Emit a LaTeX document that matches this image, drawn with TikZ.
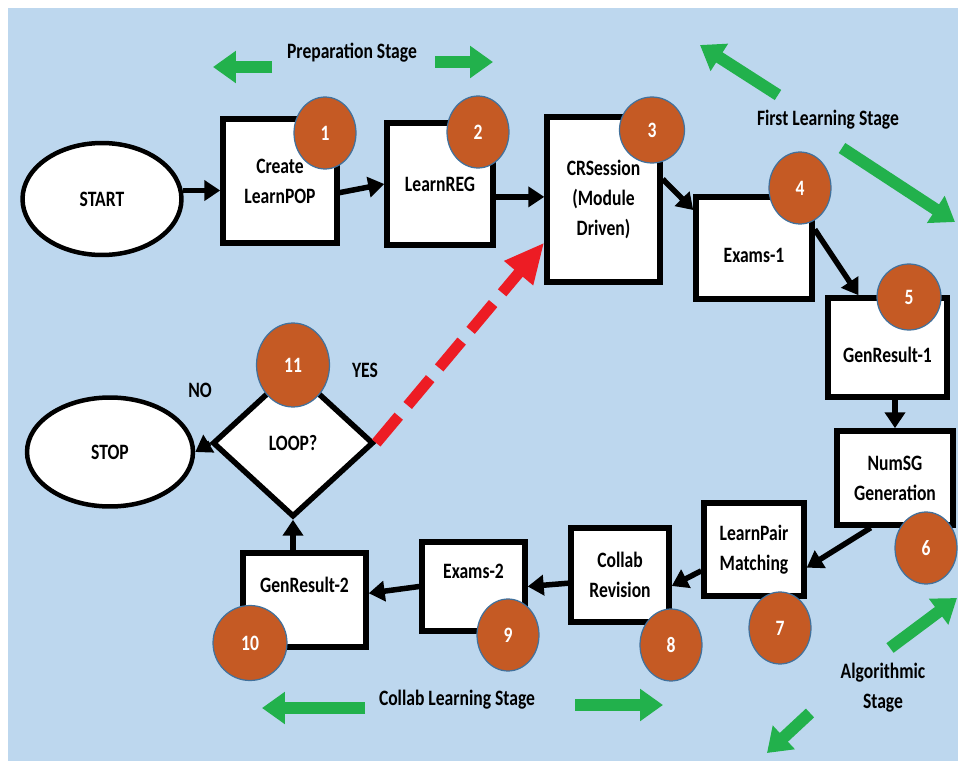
\documentclass[tikz,border=0pt]{standalone}
\usepackage{fontspec}
\setmainfont{Carlito}[FakeStretch=0.8]
\usetikzlibrary{shapes.geometric,arrows.meta}
\definecolor{bgblue}{HTML}{BDD7EE}
\definecolor{numfill}{HTML}{C55A24}
\definecolor{numedge}{HTML}{41719C}
\definecolor{stagegreen}{HTML}{22B14C}
\definecolor{loopred}{HTML}{ED1C24}
\tikzset{
  every node/.style={font=\fontsize{12.5}{17}\selectfont\bfseries},
  proc/.style={draw, fill=white, line width=0.11cm, align=center, inner sep=0pt},
  term/.style={draw, fill=white, ellipse, line width=0.09cm, inner sep=0pt},
  num/.style={ellipse, draw=numedge, fill=numfill, line width=0.7pt, text=white,
    inner sep=0pt, minimum width=1.24cm, minimum height=1.44cm},
  flow/.style={line width=0.11cm, -{Triangle[length=0.32cm,width=0.4cm]}},
  stage/.style={stagegreen, line width=0.24cm, -{Triangle[length=0.46cm,width=0.62cm]}},
}
\begin{document}
\begin{tikzpicture}[x=0.02cm, y=-0.02cm]
  \useasboundingbox (0,0) rectangle (958,761);
  \fill[bgblue] (8,8) rectangle (958,761);

  % start and stop
  \node[term, minimum width=3.18cm, minimum height=2.24cm] (start) at (102,199) {START};
  \node[term, minimum width=3.32cm, minimum height=2.18cm] (stop) at (110,452) {STOP};

  % process boxes
  \node[proc, minimum width=2.28cm, minimum height=2.48cm] (learnpop) at (280,181) {Create\\LearnPOP};
  \node[proc, minimum width=2.12cm, minimum height=2.44cm] (learnreg) at (440,184) {LearnREG};
  \node[proc, minimum width=2.26cm, minimum height=3.30cm] (crsession) at (603.5,199.5) {CRSession\\(Module\\Driven)};
  \node[proc, minimum width=2.32cm, minimum height=2.04cm] (exams1) at (754,248) {~\\Exams-1};
  \node[proc, minimum width=2.38cm, minimum height=1.98cm] (genres1) at (887.5,347.5) {~\\GenResult-1};
  \node[proc, minimum width=2.32cm, minimum height=1.88cm] (numsg) at (895,478) {NumSG\\Generation};
  \node[proc, minimum width=2.00cm, minimum height=1.86cm] (pair) at (754,549.5) {LearnPair\\Matching};
  \node[proc, minimum width=1.96cm, minimum height=1.88cm] (revision) at (620,575) {Collab\\Revision};
  \node[proc, minimum width=2.06cm, minimum height=1.78cm] (exams2) at (473.5,586.5) {Exams-2\\~};
  \node[proc, minimum width=2.46cm, minimum height=1.88cm] (genres2) at (304.5,600) {GenResult-2\\~};
  \node[diamond, draw, fill=white, line width=0.11cm, inner sep=0pt,
    minimum width=3.22cm, minimum height=2.96cm] (loop) at (293,443) {LOOP?};

  % connectors
  \draw[flow] (start.6) -- (start.6 -| learnpop.west);
  \draw[flow] (learnpop.-11) -- (learnreg.west);
  \draw[flow] (learnreg.-13) -- (learnreg.-13 -| crsession.west);
  \draw[flow] (crsession.19) -- (exams1.148);
  \draw[flow] (exams1.17) -- (genres1.119);
  \draw[flow] (numsg.north |- genres1.south) -- (numsg.north);
  \draw[flow] (numsg.-116) -- (pair.-19);
  \draw[flow] (pair.202) -- (revision.-12);
  \draw[flow] (revision.189) -- (exams2.east);
  \draw[flow] (exams2.west) -- (genres2.6);
  \draw[flow] (loop.south |- genres2.north) -- (loop.south);
  \draw[flow] (loop.west) -- (stop.east);
  \draw[loopred, line width=0.22cm, dash pattern=on 0.7cm off 0.28cm,
    -{Triangle[length=0.8cm,width=0.7cm]}] (loop.east) -- (crsession.216);

  % step numbers
  \node[num] (n1) at (325,133) {1};
  \node[num] (n2) at (478,132) {2};
  \node[num, minimum width=1.30cm, minimum height=1.32cm] (n3) at (652,130) {3};
  \node[num] (n4) at (800,188) {4};
  \node[num, minimum width=1.28cm, minimum height=1.32cm] (n5) at (909,297) {5};
  \node[num] (n6) at (926,548) {6};
  \node[num] (n7) at (780,628) {7};
  \node[num] (n8) at (671,645) {8};
  \node[num] (n9) at (508,635) {9};
  \node[num, minimum width=1.48cm, minimum height=1.50cm] (n10) at (250,643) {10};
  \node[num, minimum width=1.46cm, minimum height=1.68cm] (n11) at (293,365) {11};

  \node (no) at (200,390) {NO};
  \node (yes) at (365,370) {YES};

  % stage labels
  \node (prep) at (352,53) {Preparation Stage};
  \node (first) at (828,120) {First Learning Stage};
  \node[align=center] (algo) at (883,688) {Algorithmic\\Stage};
  \node (collab) at (457,700) {Collab Learning Stage};

  \coordinate (prepA) at (272,67);  \coordinate (prepB) at (213,67);
  \coordinate (prepC) at (435,62);  \coordinate (prepD) at (493,62);
  \coordinate (firstA) at (778,95); \coordinate (firstB) at (700,45);
  \coordinate (firstC) at (842,148); \coordinate (firstD) at (955,222);
  \coordinate (algoA) at (890,648); \coordinate (algoB) at (957,598);
  \coordinate (algoC) at (810,713); \coordinate (algoD) at (767,753);
  \coordinate (collabA) at (365,708); \coordinate (collabB) at (262,708);
  \coordinate (collabC) at (575,705); \coordinate (collabD) at (663,705);

  \draw[stage] (prepA) -- (prepB);
  \draw[stage] (prepC) -- (prepD);
  \draw[stage] (firstA) -- (firstB);
  \draw[stage] (firstC) -- (firstD);
  \draw[stage] (algoA) -- (algoB);
  \draw[stage] (algoC) -- (algoD);
  \draw[stage] (collabA) -- (collabB);
  \draw[stage] (collabC) -- (collabD);
\end{tikzpicture}
\end{document}
